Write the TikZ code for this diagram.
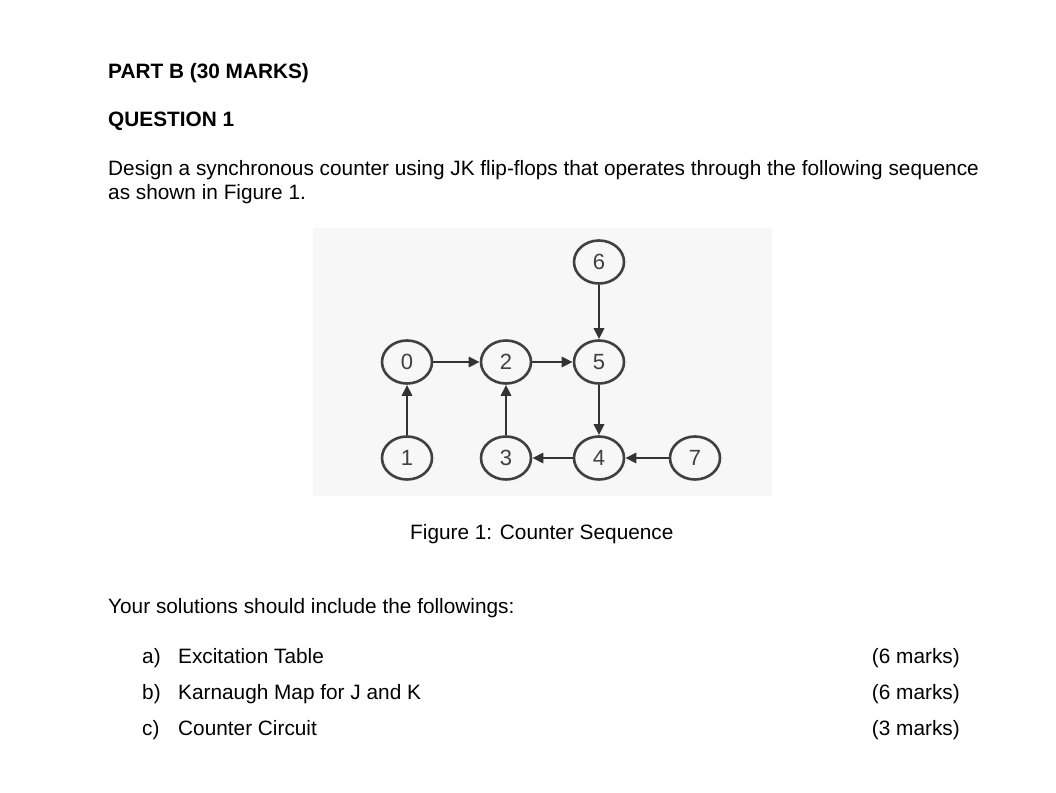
\documentclass[tikz,border=0pt]{standalone}
\usepackage{fontspec}
\setmainfont{Liberation Sans}
\usetikzlibrary{shapes.geometric,arrows.meta}
\begin{document}
\begin{tikzpicture}[x=1pt,y=-1pt,
  st/.style={draw=black!75,line width=2.6pt,ellipse,minimum width=50pt,minimum height=43pt,inner sep=0pt,font=\fontsize{22}{22}\selectfont,text=black!75},
  ar/.style={-{Triangle[length=11pt,width=10pt]},line width=2.8pt,draw=black!80},
  txt/.style={anchor=base west,inner sep=0pt,font=\fontsize{20.8}{24}\selectfont}]
\useasboundingbox (0,0) rectangle (1056,792);
\fill[white] (0,0) rectangle (1056,792);
\fill[black!3] (313,228) rectangle (772,496);
\node[txt,font=\bfseries\fontsize{20.8}{24}\selectfont] (t1) at (108,78) {PART B (30 MARKS)};
\node[txt,font=\bfseries\fontsize{20.8}{24}\selectfont] (t2) at (108,126) {QUESTION 1};
\node[txt] (t3) at (108,175) {Design a synchronous counter using JK flip-flops that operates through the following sequence};
\node[txt] (t4) at (108,199) {as shown in Figure 1.};
\node[st] (n6) at (599,262) {6};
\node[st] (n0) at (407,362) {0};
\node[st] (n2) at (506,362) {2};
\node[st] (n5) at (599,362) {5};
\node[st] (n1) at (407,458) {1};
\node[st] (n3) at (506,458) {3};
\node[st] (n4) at (599,458) {4};
\node[st] (n7) at (695,458) {7};
\draw[ar] (n0) -- (n2);
\draw[ar] (n2) -- (n5);
\draw[ar] (n6) -- (n5);
\draw[ar] (n5) -- (n4);
\draw[ar] (n7) -- (n4);
\draw[ar] (n4) -- (n3);
\draw[ar] (n3) -- (n2);
\draw[ar] (n1) -- (n0);
\node[txt] (cap) at (410,539) {Figure 1: Counter Sequence};
\node[txt] (y) at (108,613) {Your solutions should include the followings:};
\node[txt] (a) at (142,663) {a)};
\node[txt] (b) at (142,699) {b)};
\node[txt] (c) at (142,735) {c)};
\node[txt] (a2) at (178,663) {Excitation Table};
\node[txt] (b2) at (178,699) {Karnaugh Map for J and K};
\node[txt] (c2) at (178,735) {Counter Circuit};
\node[txt,anchor=base east] (ma) at (960,663) {(6 marks)};
\node[txt,anchor=base east] (mb) at (960,699) {(6 marks)};
\node[txt,anchor=base east] (mc) at (960,735) {(3 marks)};
\end{tikzpicture}
\end{document}
